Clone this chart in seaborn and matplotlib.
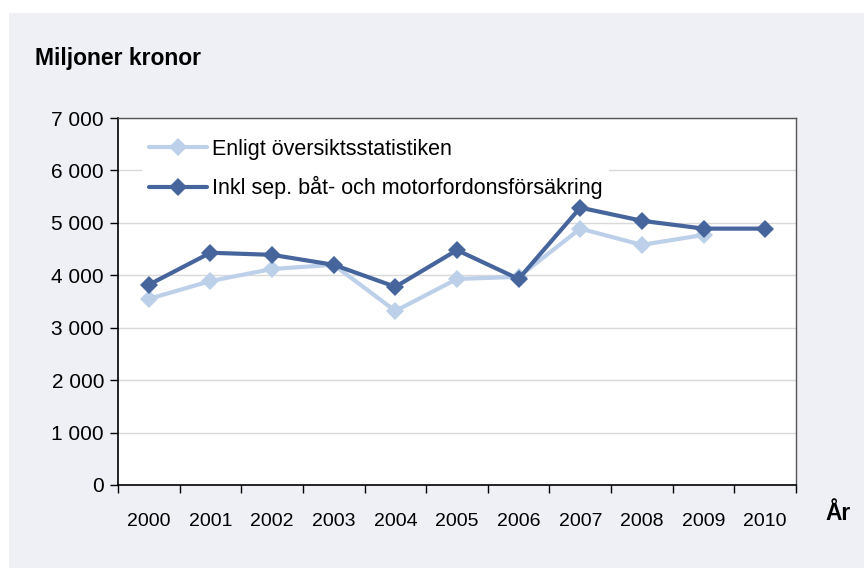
import numpy as np
import pandas as pd
import matplotlib.pyplot as plt
import seaborn as sns
from matplotlib.patches import Rectangle
from matplotlib.ticker import FixedLocator, FuncFormatter

# Data
years = [2000, 2001, 2002, 2003, 2004, 2005, 2006, 2007, 2008, 2009, 2010]
oversikt = [3550, 3890, 4120, 4200, 3320, 3930, 3970, 4890, 4580, 4770, np.nan]
inkl_sep = [3820, 4430, 4390, 4200, 3780, 4480, 3930, 5290, 5040, 4890, 4890]
series_names = ['Enligt översiktsstatistiken',
                'Inkl sep. båt- och motorfordonsförsäkring']

data = pd.DataFrame({
    'År': years * 2,
    'Värde': oversikt + inkl_sep,
    'Serie': [series_names[0]] * len(years) + [series_names[1]] * len(years),
})

sns.set_style('white')
plt.rcParams['font.family'] = ['Liberation Sans', 'DejaVu Sans']
plt.rcParams['text.color'] = 'black'
plt.rcParams['xtick.color'] = 'black'
plt.rcParams['ytick.color'] = 'black'

fig = plt.figure(figsize=(8.64, 5.68), dpi=100, facecolor='white')
# light panel behind the chart
fig.patches.append(Rectangle((9 / 864, 0), 1, (568 - 13) / 568, transform=fig.transFigure,
                             facecolor='#EEF0F5', edgecolor='none', zorder=-10))

ax = fig.add_axes([118 / 864, (568 - 485) / 568, 678 / 864, 367 / 568])
ax.set_facecolor('white')

palette = {series_names[0]: '#BDD0EA', series_names[1]: '#46659C'}
sns.lineplot(data=data, x='År', y='Värde', hue='Serie', palette=palette,
             marker='D', markersize=9, markeredgewidth=0, linewidth=3,
             ax=ax, zorder=3)

ax.set_xlim(1999.5, 2010.5)
ax.set_ylim(0, 7000)
ax.set_xticks(years)
ax.set_xticklabels([str(y) for y in years])
ax.xaxis.set_minor_locator(FixedLocator(np.arange(1999.5, 2011, 1)))
ax.tick_params(axis='x', which='major', bottom=True, length=0, pad=20, labelsize=14)
ax.tick_params(axis='x', which='minor', bottom=True, length=6, width=1, color='black',
               direction='out')
ax.tick_params(axis='y', left=True, length=6, width=1, color='black', direction='out',
               labelsize=15, pad=4)
ax.yaxis.set_major_locator(FixedLocator(np.arange(0, 7001, 1000)))
ax.yaxis.set_major_formatter(FuncFormatter(lambda v, p: f'{int(v):,}'.replace(',', ' ')))

ax.grid(axis='y', color='#D9D9D9', linewidth=1)
ax.set_axisbelow(True)
for side in ['left', 'bottom']:
    ax.spines[side].set_color('black')
    ax.spines[side].set_linewidth(1.2)
for side in ['top', 'right']:
    ax.spines[side].set_color('#555555')
    ax.spines[side].set_linewidth(1)

ax.set_xlabel('')
ax.set_ylabel('')

leg = ax.legend(loc='upper left', bbox_to_anchor=(0.02, 0.99), fontsize=15.5,
                handlelength=2.7, handletextpad=0.25, labelspacing=0.75,
                frameon=True, facecolor='white', edgecolor='none', framealpha=1,
                borderpad=0.3)
leg.set_zorder(2)

fig.text(35 / 864, 1 - 58 / 568, 'Miljoner kronor', fontsize=16.5, fontweight='bold',
         va='center', ha='left')
fig.text(838 / 864, 1 - 513 / 568, 'År', fontsize=16.5, fontweight='bold',
         va='center', ha='center')

fig.savefig('out.png', dpi=100, facecolor=fig.get_facecolor())
